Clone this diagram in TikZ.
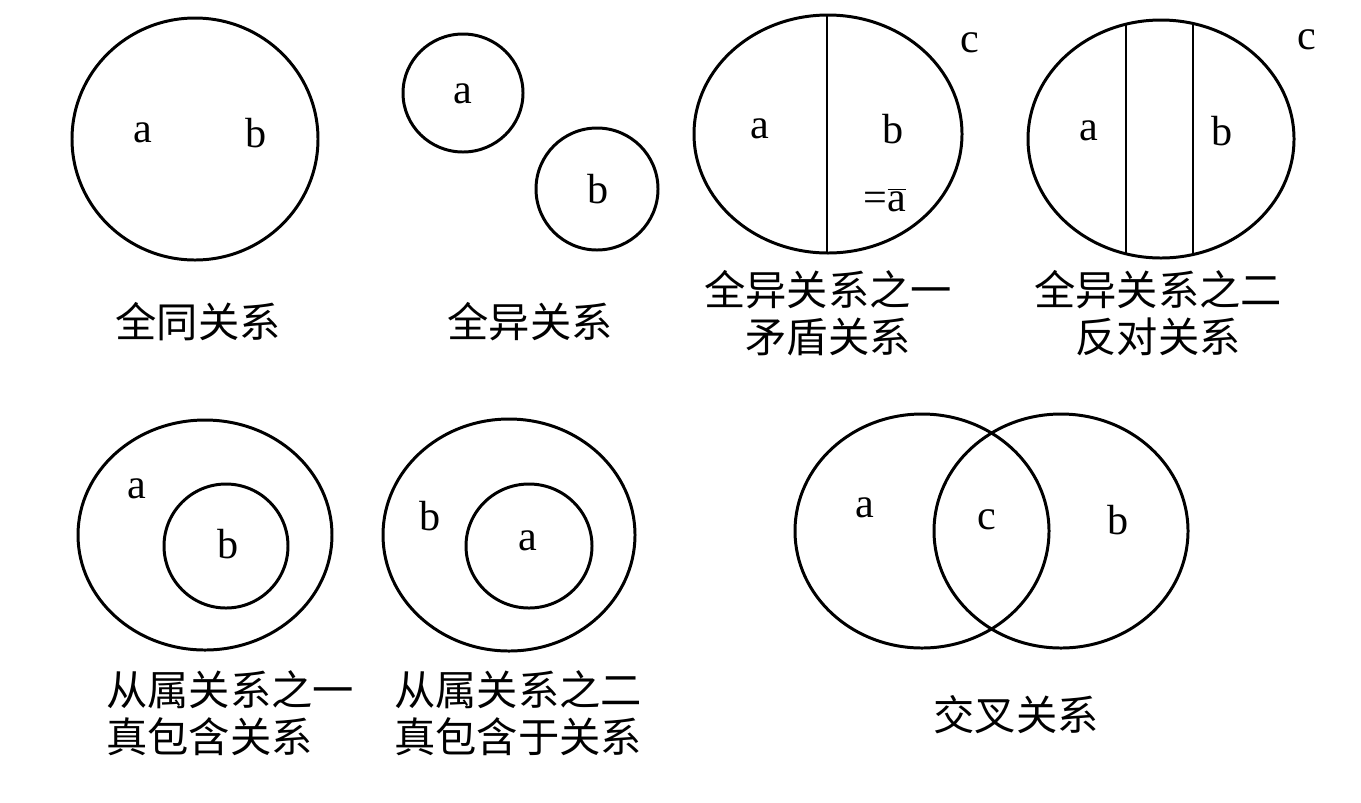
\documentclass[tikz,border=0pt]{standalone}
\usepackage{fontspec}
\setmainfont{Liberation Serif}
\newfontfamily\cjk{Noto Sans CJK SC}
\usetikzlibrary{calc}

\begin{document}
\begin{tikzpicture}[x=0.02cm, y=-0.02cm, font=\fontsize{24}{27}\selectfont,
    set/.style={line width=1.7pt},
    cut/.style={line width=1.2pt},
    caption/.style={font=\cjk\fontsize{23.5}{26.5}\selectfont, align=center}]
    \useasboundingbox (0,0) rectangle (1361,802);
    % identity
    \draw[set] (195,139) ellipse[x radius=123, y radius=121];
    \node (sameA) at (143,133) {a};
    \node (sameB) at (256,133) {b};
    \node[caption] (capSame) at (198,322) {全同关系};
    % disjoint
    \draw[set] (463,93) ellipse[x radius=60, y radius=59];
    \draw[set] (597,189) ellipse[x radius=61, y radius=61];
    \node (disA) at (463,94) {a};
    \node (disB) at (598,189) {b};
    \node[caption] (capDis) at (530,322) {全异关系};
    % contradictory
    \draw[set] (828,134) ellipse[x radius=134, y radius=119];
    \draw[cut] (827,15) -- (827,253);
    \node (conA) at (760,129) {a};
    \node (conB) at (893,129) {b};
    \node (conNot) at (885,200) {=$\overline{\mbox{a}}$};
    \node (conC) at (970,43) {c};
    \node[caption] (capCon) at (828,313) {全异关系之一\\矛盾关系};
    % contrary
    \draw[set] (1161,139) ellipse[x radius=133, y radius=119];
    \begin{scope}
      \clip (1161,139) ellipse[x radius=133, y radius=119];
      \draw[cut] (1126,0) -- (1126,300);
      \draw[cut] (1193,0) -- (1193,300);
    \end{scope}
    \node (ctrA) at (1089,131) {a};
    \node (ctrB) at (1222,131) {b};
    \node (ctrC) at (1307,40) {c};
    \node[caption] (capCtr) at (1158,313) {全异关系之二\\反对关系};
    % subordination, b inside a
    \draw[set] (205,535) ellipse[x radius=127, y radius=115];
    \draw[set] (226,546) ellipse[x radius=62, y radius=62];
    \node (incA) at (137,489) {a};
    \node (incB) at (228,544) {b};
    \node[caption, align=left] (capInc) at (230,713) {从属关系之一\\真包含关系};
    % subordination, a inside b
    \draw[set] (509,535) ellipse[x radius=126, y radius=116];
    \draw[set] (529,546) ellipse[x radius=63, y radius=62];
    \node (subB) at (430,516) {b};
    \node (subA) at (528,541) {a};
    \node[caption, align=left] (capSub) at (518,713) {从属关系之二\\真包含于关系};
    % overlap
    \draw[set] (922,531) ellipse[x radius=127, y radius=117];
    \draw[set] (1061,531) ellipse[x radius=127, y radius=117];
    \node (ovA) at (865,508) {a};
    \node (ovC) at (987,520) {c};
    \node (ovB) at (1118,520) {b};
    \node[caption] (capOv) at (1016,715) {交叉关系};
\end{tikzpicture}
\end{document}
